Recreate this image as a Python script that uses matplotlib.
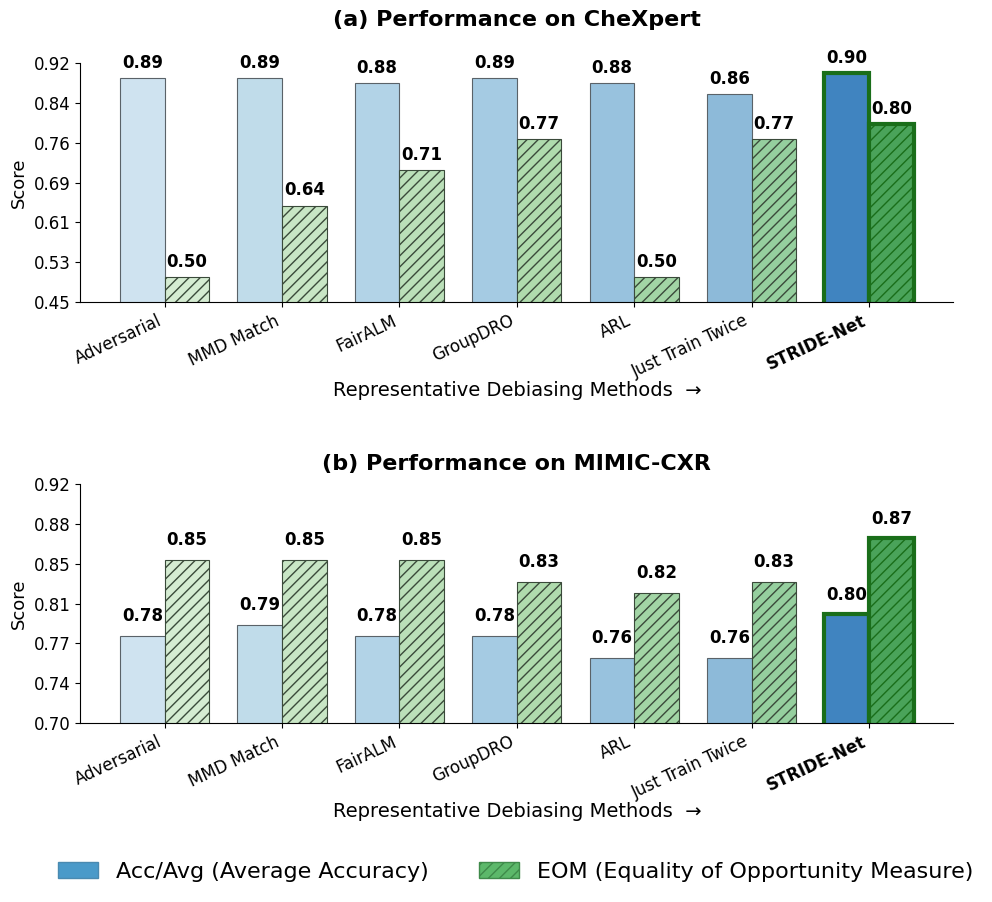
import numpy as np
import matplotlib.pyplot as plt
from matplotlib.patches import Patch
from matplotlib.ticker import FormatStrFormatter

# DATA
methods = ['Adversarial', 'MMD Match', 'FairALM', 'GroupDRO', 'ARL',
           'Just Train Twice', 'STRIDE-Net']
chexpert_acc = [0.89, 0.89, 0.88, 0.89, 0.88, 0.86, 0.90]
chexpert_eom = [0.50, 0.64, 0.71, 0.77, 0.50, 0.77, 0.80]
mimic_acc = [0.78, 0.79, 0.78, 0.78, 0.76, 0.76, 0.80]
mimic_eom = [0.85, 0.85, 0.85, 0.83, 0.82, 0.83, 0.87]

# WARNA
ACC_COLORS = ['#cfe3f0', '#c0dcea', '#b2d3e7', '#a5cbe3', '#98c2de',
              '#8dbad9', '#4084c0']
EOM_COLORS = ['#d5ecd2', '#c8e6c5', '#bbe0b9', '#afdbad', '#a2d5a5',
              '#95cf9e', '#4aa35a']
WIDTH = 0.38

fig, axes = plt.subplots(nrows=2, ncols=1, figsize=(9.92, 9.02))
fig.subplots_adjust(left=0.081, right=0.961, top=0.930, bottom=0.1984,
                    hspace=0.7615)

panels = [
    (axes[0], chexpert_acc, chexpert_eom, (0.45, 0.92),
     '(a) Performance on CheXpert', 27, 0.012),
    (axes[1], mimic_acc, mimic_eom, (0.70, 0.92),
     '(b) Performance on MIMIC-CXR', 10, 0.01),
]

x = np.arange(len(methods))
for ax, acc, eom, ylim, title, pad, off in panels:
    for i in range(len(methods)):
        best = methods[i] == 'STRIDE-Net'
        lw = 3 if best else 0.8
        ax.bar(x[i] - WIDTH / 2, acc[i], WIDTH, color=ACC_COLORS[i],
               edgecolor='#1a6e1a' if best else '#5a6268', linewidth=lw,
               zorder=2)
        ax.bar(x[i] + WIDTH / 2, eom[i], WIDTH, color=EOM_COLORS[i],
               edgecolor='#1a6e1a' if best else '#3a4a3a', linewidth=lw,
               hatch='///', zorder=2)
        ax.text(x[i] - WIDTH / 2, acc[i] + off, f'{acc[i]:.2f}',
                ha='center', va='bottom', fontsize=12, fontweight='bold')
        ax.text(x[i] + WIDTH / 2, eom[i] + off, f'{eom[i]:.2f}',
                ha='center', va='bottom', fontsize=12, fontweight='bold')

    ax.set_ylim(*ylim)
    ax.set_yticks(np.linspace(ylim[0], ylim[1], 7))
    ax.yaxis.set_major_formatter(FormatStrFormatter('%.2f'))
    ax.set_xticks(x)
    ax.set_xticklabels(methods, rotation=25, ha='right', fontsize=12)
    ax.get_xticklabels()[-1].set_fontweight('bold')
    ax.tick_params(axis='y', labelsize=12)
    ax.set_ylabel('Score', fontsize=13)
    ax.set_xlabel('Representative Debiasing Methods  \u2192', fontsize=14,
                  labelpad=0)
    ax.set_title(title, fontsize=16, fontweight='bold', pad=pad)
    ax.spines['top'].set_visible(False)
    ax.spines['right'].set_visible(False)

handles = [
    Patch(facecolor='#4a9ac9', edgecolor='#4a8ab0',
          label='Acc/Avg (Average Accuracy)'),
    Patch(facecolor='#5cb86a', edgecolor='#3f8a4a', hatch='///',
          label='EOM (Equality of Opportunity Measure)'),
]
fig.legend(handles=handles, loc='lower center', ncol=2, fontsize=16,
           frameon=False, bbox_to_anchor=(0.52, 0.0), columnspacing=2.25,
           handlelength=1.8)

plt.savefig('out.png', dpi=100)
plt.close(fig)
